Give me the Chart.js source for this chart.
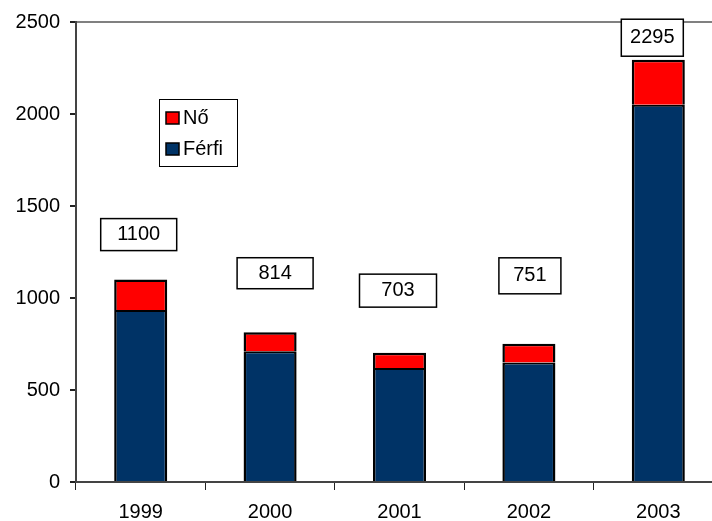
<!DOCTYPE html>
<html>
<head>
<meta charset="utf-8">
<script src="https://cdn.jsdelivr.net/npm/chart.js@4"></script>
<style>
  html, body { margin: 0; padding: 0; background: #fff; overflow: hidden; }
</style>
</head>
<body>
<canvas id="myChart" width="730" height="521"></canvas>
<script>
// adatok
const evek = ["1999", "2000", "2001", "2002", "2003"];
const ferfi = [935, 710, 620, 650, 2050];
const no = [165, 104, 83, 101, 245];
const osszesen = [1100, 814, 703, 751, 2295];
const yTicks = [0, 500, 1000, 1500, 2000, 2500];

// címkék elhelyezése (kézzel mozgatott dobozok, mint az Excelben)
const cimkeEltolas = [
  { dx: -2, emel: 45, w: 76, h: 32 },
  { dx: 5, emel: 59, w: 76, h: 31 },
  { dx: -1.5, emel: 62, w: 77, h: 33 },
  { dx: 1, emel: 68, w: 62, h: 36 },
  { dx: -6, emel: 22, w: 62, h: 37 },
];

const FONT = "'Liberation Sans', Arial, sans-serif";

const ertekCimkek = {
  id: "ertekCimkek",
  afterDatasetsDraw(chart) {
    const { ctx, scales: { x, y } } = chart;
    ctx.save();
    ctx.font = "20px " + FONT;
    ctx.textAlign = "center";
    ctx.textBaseline = "middle";
    osszesen.forEach((ertek, i) => {
      const e = cimkeEltolas[i];
      const cx = x.getPixelForValue(i) + e.dx;
      const cy = y.getPixelForValue(ertek) - e.emel;
      ctx.fillStyle = "#fff";
      ctx.fillRect(cx - e.w / 2, cy - e.h / 2, e.w, e.h);
      ctx.lineWidth = 1.5;
      ctx.strokeStyle = "#000";
      ctx.strokeRect(cx - e.w / 2, cy - e.h / 2, e.w, e.h);
      ctx.fillStyle = "#000";
      ctx.fillText(String(ertek), cx, cy);
    });
    ctx.restore();
  },
};

const jelmagyarazat = {
  id: "jelmagyarazat",
  afterDraw(chart) {
    const { ctx, chartArea } = chart;
    const bx = chartArea.left + 83;
    const by = chartArea.top + 77;
    ctx.save();
    ctx.fillStyle = "#fff";
    ctx.fillRect(bx, by, 78, 67);
    ctx.lineWidth = 1;
    ctx.strokeStyle = "#000";
    ctx.strokeRect(bx + 0.5, by + 0.5, 78, 67);
    ctx.font = "20px " + FONT;
    ctx.textBaseline = "middle";
    ctx.textAlign = "left";
    const sorok = chart.data.datasets.slice().reverse();
    sorok.forEach((ds, i) => {
      const sy = by + 19 + i * 31;
      ctx.fillStyle = ds.backgroundColor;
      ctx.fillRect(bx + 7, sy - 6, 13, 12);
      ctx.lineWidth = 1.5;
      ctx.strokeStyle = "#000";
      ctx.strokeRect(bx + 7, sy - 6, 13, 12);
      ctx.fillStyle = "#000";
      ctx.fillText(ds.label, bx + 24, sy);
    });
    ctx.restore();
  },
};

const config = {
  type: "bar",
  data: {
    labels: evek,
    datasets: [
      {
        label: "Férfi",
        data: ferfi,
        backgroundColor: "#003366",
        borderColor: "#000",
        borderWidth: { top: 2, left: 2.5, right: 2.5, bottom: 0 },
        borderSkipped: false,
      },
      {
        label: "Nő",
        data: no,
        backgroundColor: "#ff0000",
        borderColor: "#000",
        borderWidth: { top: 2.5, left: 2.5, right: 2.5, bottom: 0 },
        borderSkipped: false,
      },
    ],
  },
  options: {
    responsive: false,
    animation: false,
    layout: { padding: { top: 22, right: 7, left: 0, bottom: 0 } },
    categoryPercentage: 1,
    barPercentage: 0.41,
    scales: {
      x: {
        stacked: true,
        grid: {
          offset: true,
          drawOnChartArea: false,
          tickLength: 8,
          tickColor: "#222",
          lineWidth: 1,
        },
        border: { display: true, color: "#444", width: 2 },
        ticks: { color: "#000", font: { size: 20, family: FONT }, padding: 10 },
        afterFit(scale) { scale.height = 39; },
      },
      y: {
        stacked: true,
        min: 0,
        max: 2500,
        afterBuildTicks(scale) { scale.ticks = yTicks.map((v) => ({ value: v })); },
        grid: {
          color: (c) => (c.tick && c.tick.value === 2500 ? "#808080" : "rgba(0,0,0,0)"),
          lineWidth: 2,
          tickLength: 6,
          tickColor: "#222",
        },
        border: { display: true, color: "#444", width: 2 },
        ticks: {
          color: "#000",
          font: { size: 20, family: FONT },
          padding: 10,
          callback: (v) => String(v),
        },
        afterFit(scale) { scale.width = 76; },
      },
    },
    plugins: {
      legend: { display: false },
      tooltip: { enabled: false },
    },
  },
  plugins: [ertekCimkek, jelmagyarazat],
};

new Chart(document.getElementById("myChart"), config);
</script>
</body>
</html>
